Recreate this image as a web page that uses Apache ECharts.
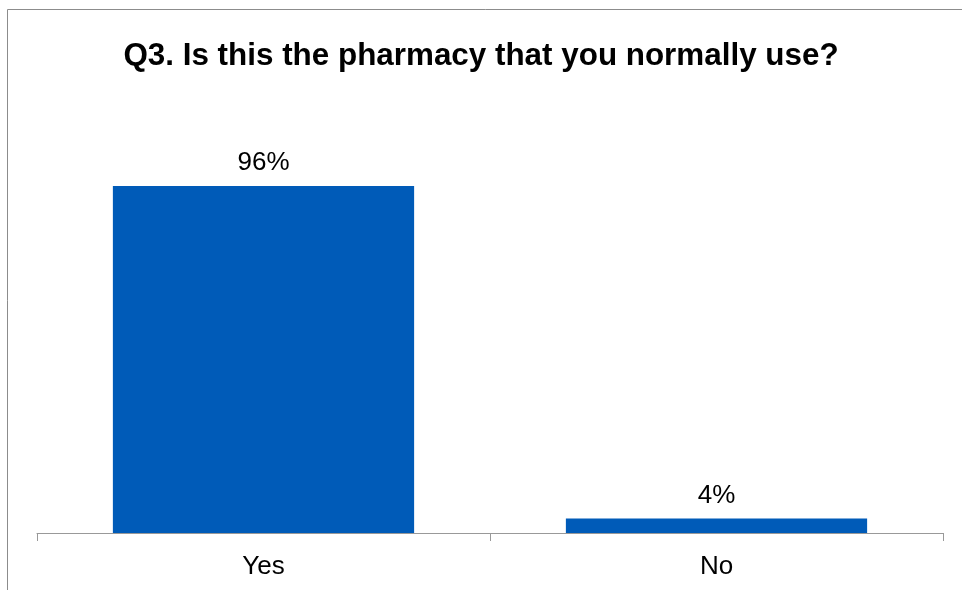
<!DOCTYPE html>
<html>
<head>
<meta charset="utf-8">
<script src="https://cdn.jsdelivr.net/npm/echarts@6/dist/echarts.min.js"></script>
<style>html,body{margin:0;padding:0;background:#fff;}#c{width:962px;height:590px;}</style>
</head>
<body>
<div id="c"></div>
<script>
const titleText = 'Q3. Is this the pharmacy that you normally use?';
const categories = ['Yes', 'No'];
const values = [96, 4];

const chart = echarts.init(document.getElementById('c'), null, {renderer: 'canvas'});
chart.setOption({
  animation: false,
  backgroundColor: '#ffffff',
  title: {
    text: titleText,
    left: 'center',
    top: 36,
    textStyle: {fontFamily: 'Liberation Sans, Arial, sans-serif', fontWeight: 'bold', fontSize: 31.4, color: '#000'}
  },
  graphic: [{
    type: 'rect',
    shape: {x: 7.5, y: 9.5, width: 1200, height: 1200},
    style: {fill: 'none', stroke: '#8c8c8c', lineWidth: 1},
    silent: true
  }],
  grid: {left: 37, right: 19, top: 171.5, bottom: 57},
  xAxis: {
    type: 'category',
    data: categories,
    axisLine: {show: true, lineStyle: {color: '#999', width: 1}},
    axisTick: {show: true, alignWithLabel: false, length: 8, lineStyle: {color: '#999'}},
    axisLabel: {fontFamily: 'Liberation Sans, Arial, sans-serif', fontSize: 26, color: '#000', margin: 21}
  },
  yAxis: {
    type: 'value', min: 0, max: 100, show: false
  },
  series: [{
    type: 'bar',
    data: values,
    barWidth: '66.5%',
    itemStyle: {color: '#005bb8'},
    label: {
      show: true, position: 'top', distance: 10,
      formatter: p => p.value + '%',
      fontFamily: 'Liberation Sans, Arial, sans-serif', fontSize: 26, color: '#000'
    }
  }]
});
</script>
</body>
</html>
